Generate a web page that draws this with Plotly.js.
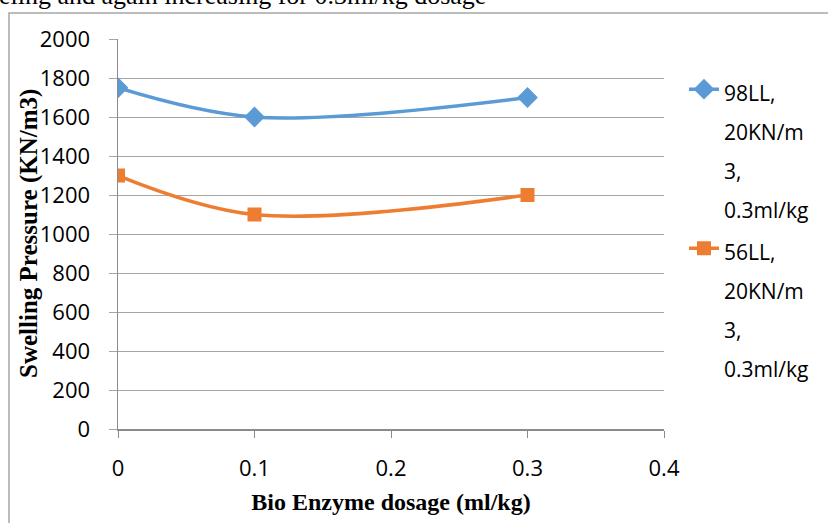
<!DOCTYPE html>
<html>
<head>
<meta charset="utf-8">
<script src="https://cdn.plot.ly/plotly-3.0.1.min.js"></script>
<style>
html,body{margin:0;padding:0;background:#fff;overflow:hidden;}
#chart{width:828px;height:523px;}
</style>
</head>
<body>
<div id="chart"></div>
<script>
// Data
const dosage = [0, 0.1, 0.3];
const series98LL = [1750, 1600, 1700];
const series56LL = [1300, 1100, 1200];
const seriesNames = [
  ["98LL,", "20KN/m", "3,", "0.3ml/kg"],
  ["56LL,", "20KN/m", "3,", "0.3ml/kg"]
];
const xTickVals = [0, 0.1, 0.2, 0.3, 0.4];
const yTickVals = [0, 200, 400, 600, 800, 1000, 1200, 1400, 1600, 1800, 2000];
const captionText = "eling and again increasing for 0.3ml/kg dosage";

const mkName = lines => lines.map(l => '<span style="font-size:21px">' + l + '</span>').join('<br>');

const traces = [
  {
    x: dosage, y: series98LL, name: mkName(seriesNames[0]),
    type: 'scatter', mode: 'lines+markers',
    line: {color: '#5b9bd5', width: 3.5, shape: 'spline', smoothing: 1},
    marker: {symbol: 'diamond', size: 16, color: '#5b9bd5'}
  },
  {
    x: dosage, y: series56LL, name: mkName(seriesNames[1]),
    type: 'scatter', mode: 'lines+markers',
    line: {color: '#ed7d31', width: 3.5, shape: 'spline', smoothing: 1},
    marker: {symbol: 'square', size: 14, color: '#ed7d31'}
  }
];

const serif = '"Liberation Serif", "Times New Roman", serif';
const sans = '"Open Sans", "Noto Sans", sans-serif';

const layout = {
  width: 828, height: 523,
  margin: {l: 118, r: 164, t: 39, b: 94, autoexpand: false},
  paper_bgcolor: '#fff', plot_bgcolor: '#fff',
  font: {family: sans, color: '#000'},
  showlegend: true,
  legend: {
    x: 1.0366, y: 0.938, xanchor: 'left', yanchor: 'top',
    font: {size: 30, family: sans, color: '#000'},
    valign: 'top', tracegroupgap: 0, bgcolor: 'rgba(0,0,0,0)'
  },
  xaxis: {
    range: [0, 0.4], tickvals: xTickVals, ticktext: xTickVals.map(String),
    showgrid: false, zeroline: false,
    showline: true, linecolor: '#8c8c8c', linewidth: 1.5,
    ticks: 'outside', ticklen: 7, tickcolor: '#8c8c8c', tickwidth: 1,
    tickfont: {size: 22, family: sans, color: '#000'},
    ticklabelstandoff: 12,
    title: {text: 'Bio Enzyme dosage (ml/kg)', standoff: 12,
            font: {family: serif, size: 24, weight: 'bold', color: '#000'}}
  },
  yaxis: {
    range: [0, 2000], tickvals: yTickVals,
    showgrid: true, gridcolor: '#a6a6a6', gridwidth: 1,
    zeroline: false,
    showline: true, linecolor: '#8c8c8c', linewidth: 1.5,
    ticks: 'outside', ticklen: 8, tickcolor: '#a6a6a6', tickwidth: 1,
    tickfont: {size: 22, family: sans, color: '#000'},
    ticklabelstandoff: 14
  },
  shapes: [
    {type: 'rect', xref: 'paper', yref: 'paper',
     x0: (9 - 118) / 546, x1: (840 - 118) / 546,
     y0: (429 - 540) / 390, y1: (429 - 13) / 390,
     line: {color: '#a6a6a6', width: 1.5}, fillcolor: 'rgba(0,0,0,0)', layer: 'below'}
  ],
  annotations: [
    {text: captionText, xref: 'paper', yref: 'paper',
     x: (-3 - 118) / 546, y: (429 + 4) / 390, xanchor: 'left', yanchor: 'middle',
     showarrow: false,
     font: {family: serif, size: 26, color: '#000'}},
    {text: '<b>Swelling Pressure (KN/m3)</b>', xref: 'paper', yref: 'paper',
     x: (29 - 118) / 546, y: 0.5, xanchor: 'center', yanchor: 'middle',
     textangle: -90, showarrow: false,
     font: {family: serif, size: 25, color: '#000'}}
  ]
};

Plotly.newPlot('chart', traces, layout, {displayModeBar: false, staticPlot: true});
</script>
</body>
</html>
